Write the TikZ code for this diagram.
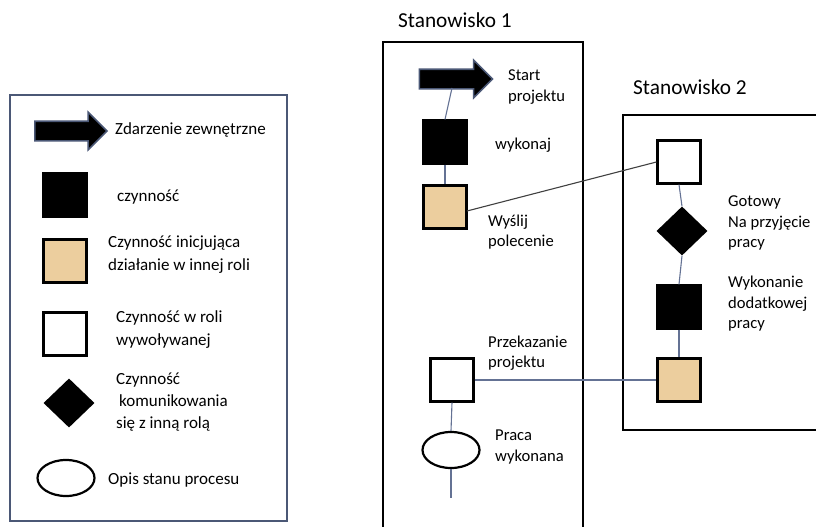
\documentclass[tikz,border=0pt]{standalone}
\usepackage{fontspec}
\setmainfont{Carlito}
\usetikzlibrary{shapes.geometric,shapes.arrows}

\definecolor{framegray}{RGB}{75,88,118}
\definecolor{linkblue}{RGB}{100,114,148}
\definecolor{paper}{RGB}{236,206,158}

\tikzset{
  x=1pt, y=-1pt,
  box/.style={draw=black, line width=2.2pt, minimum size=43pt, inner sep=0pt},
  blackbox/.style={box, fill=black},
  tanbox/.style={box, fill=paper},
  whitebox/.style={box, fill=white},
  commdiamond/.style={diamond, fill=black, minimum width=51pt, minimum height=49pt, inner sep=0pt},
  stateoval/.style={ellipse, draw=black, line width=2.2pt, fill=white, minimum width=57pt, minimum height=36pt, inner sep=0pt},
  eventarrow/.style={single arrow, draw=framegray, fill=black, line width=1.6pt,
    minimum height=72pt, inner sep=9pt, single arrow head extend=9pt},
  legendtext/.style={anchor=west, align=left, inner sep=0pt, font=\fontsize{17}{23}\selectfont},
  note/.style={anchor=west, align=left, inner sep=0pt, font=\fontsize{16.6}{20.5}\selectfont},
  title/.style={anchor=west, inner sep=0pt, font=\fontsize{21.3}{25}\selectfont},
  link/.style={draw=linkblue, line width=1.1pt},
  darklink/.style={draw=black!75, line width=1.1pt},
  lane/.style={draw=black, line width=2.2pt},
}

\begin{document}
\begin{tikzpicture}
\useasboundingbox (0,0) rectangle (816,527);
\clip (0,0) rectangle (816,527);

% ---------- legend ----------
\draw[draw=framegray, line width=2.2pt] (10,95) rectangle (287,521);
\node[eventarrow] (lgArrow) at (66,131) {};
\node[legendtext] (lgArrowTxt) at (115,130) {Zdarzenie zewnętrzne};
\node[blackbox] (lgAct) at (65,195) {};
\node[legendtext] (lgActTxt) at (117,197) {czynność};
\node[tanbox] (lgInit) at (65,261) {};
\node[legendtext] (lgInitTxt) at (108,255) {Czynność inicjująca\\działanie w innej roli};
\node[whitebox] (lgCalled) at (65,334) {};
\node[legendtext] (lgCalledTxt) at (116,330) {Czynność w roli\\wywoływanej};
\node[commdiamond] (lgComm) at (69,403) {};
\node[legendtext, font=\fontsize{17}{22}\selectfont] (lgCommTxt) at (116,402) {Czynność\\\hspace{3pt}komunikowania\\się z inną rolą};
\node[stateoval] (lgState) at (66,478) {};
\node[legendtext] (lgStateTxt) at (108,480) {Opis stanu procesu};

% ---------- Stanowisko 1 ----------
\node[title] (t1) at (398,20) {Stanowisko 1};
\draw[lane] (383,42) rectangle (583,560);

\node[eventarrow, minimum height=73pt] (start) at (451,79) {};
\coordinate (startFoot) at (452,88);
\node[note] (startTxt) at (508,87) {Start\\projektu};
\node[blackbox] (wyk) at (445,142) {};
\node[note] (wykTxt) at (495,145) {wykonaj};
\node[tanbox] (wys) at (445,207) {};
\coordinate (wysOut) at (467,211);
\node[note] (wysTxt) at (488,232) {Wyślij\\polecenie};
\node[whitebox] (prz) at (452,380) {};
\node[note] (przTxt) at (488,353) {Przekazanie\\projektu};
\node[stateoval] (praca) at (451,450) {};
\node[note] (pracaTxt) at (495,447) {Praca\\wykonana};
\coordinate (tail) at (451,498);

% ---------- Stanowisko 2 ----------
\node[title] (t2) at (633,87) {Stanowisko 2};
\draw[lane] (623,115) rectangle (840,430);

\node[whitebox] (przyj) at (679,162) {};
\node[commdiamond] (got) at (682,231) {};
\node[note] (gotTxt) at (728,223) {Gotowy\\Na przyjęcie\\pracy};
\node[blackbox] (dod) at (679,307) {};
\node[note] (dodTxt) at (728,304) {Wykonanie\\dodatkowej\\pracy};
\node[tanbox] (odd) at (679,380) {};

% ---------- connectors ----------
\draw[link] (startFoot) -- (wyk.north);
\draw[link] (wyk.south) -- (wys.north);
\draw[link] (prz.south) -- (praca.north);
\draw[link] (praca.south) -- (tail);
\draw[darklink] (wysOut) -- (przyj.west);
\draw[link] (przyj.south) -- (got.north);
\draw[link] (got.south) -- (dod.north);
\draw[link] (dod.south) -- (odd.north);
\draw[link] (prz.east) -- (odd.west);
\end{tikzpicture}
\end{document}
